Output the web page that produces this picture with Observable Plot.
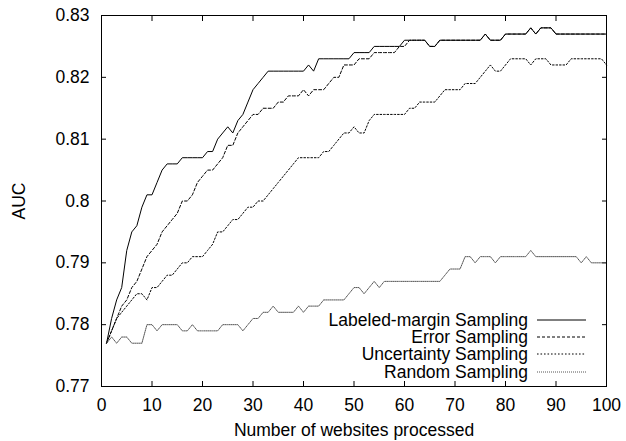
<!DOCTYPE html>
<html><head><meta charset="utf-8">
<script src="https://cdn.jsdelivr.net/npm/d3@7"></script>
<script src="https://cdn.jsdelivr.net/npm/@observablehq/plot@0.6"></script>
<style>
body{margin:0;background:#fff;}
#wrap{position:relative;width:626px;height:441px;font-family:"Liberation Sans",Arial,Helvetica,sans-serif;}
#legend{position:absolute;right:40px;top:311px;font-size:17.5px;color:#000;}
#legend .row{display:flex;align-items:center;justify-content:flex-end;height:17.3px;white-space:nowrap;}
#legend .row span{display:inline-block;height:16px;line-height:17.3px;overflow:visible;}
#legend svg{margin-left:9px;display:block;}
</style></head><body><div id="wrap"></div>
<script>
const xs = d3.range(1, 101);
const labeled = [
.777,.781,.784,.786,.792,.795,.796,.799,.801,.801,
.803,.805,.806,.806,.806,.807,.807,.807,.807,.807,
.808,.808,.810,.811,.812,.811,.813,.814,.816,.818,
.819,.820,.821,.821,.821,.821,.821,.821,.821,.821,
.822,.821,.823,.823,.823,.823,.823,.823,.823,.824,
.824,.824,.824,.825,.825,.825,.825,.825,.825,.826,
.826,.826,.826,.826,.825,.825,.826,.826,.826,.826,
.826,.826,.826,.826,.826,.827,.826,.826,.826,.827,
.827,.827,.827,.827,.828,.827,.828,.828,.828,.827,
.827,.827,.827,.827,.827,.827,.827,.827,.827,.827];
const error = [
.777,.779,.781,.783,.784,.786,.787,.789,.791,.792,
.793,.795,.796,.797,.798,.800,.800,.801,.803,.804,
.805,.805,.806,.807,.809,.809,.811,.812,.813,.814,
.814,.815,.815,.815,.816,.816,.817,.817,.817,.818,
.817,.818,.818,.818,.819,.820,.820,.822,.822,.822,
.823,.823,.823,.824,.824,.824,.824,.824,.825,.825,
.826,.826,.826,.826,.825,.825,.826,.826,.826,.826,
.826,.826,.826,.826,.826,.827,.826,.826,.826,.827,
.827,.827,.827,.827,.828,.827,.828,.828,.828,.827,
.827,.827,.827,.827,.827,.827,.827,.827,.827,.827];
const uncertainty = [
.777,.779,.781,.782,.783,.784,.785,.785,.784,.786,
.786,.787,.788,.788,.789,.790,.790,.791,.791,.791,
.792,.793,.795,.795,.796,.797,.797,.798,.799,.799,
.800,.800,.801,.802,.803,.804,.805,.806,.807,.807,
.807,.807,.807,.808,.808,.809,.810,.811,.811,.812,
.811,.811,.813,.814,.814,.814,.814,.814,.814,.814,
.815,.815,.816,.816,.816,.816,.817,.818,.818,.818,
.818,.819,.819,.819,.820,.821,.822,.821,.821,.822,
.823,.823,.823,.823,.822,.823,.823,.823,.822,.822,
.822,.822,.823,.823,.823,.823,.823,.823,.823,.822];
const random = [
.777,.778,.777,.778,.778,.777,.777,.777,.780,.780,
.779,.780,.780,.780,.780,.779,.779,.780,.779,.779,
.779,.779,.779,.780,.780,.780,.780,.779,.780,.781,
.781,.782,.782,.783,.782,.782,.782,.782,.783,.782,
.783,.783,.783,.784,.784,.784,.784,.784,.785,.786,
.786,.785,.786,.787,.786,.787,.787,.787,.787,.787,
.787,.787,.787,.787,.787,.787,.787,.788,.789,.789,
.789,.791,.791,.790,.791,.791,.791,.790,.791,.791,
.791,.791,.791,.791,.792,.791,.791,.791,.791,.791,
.791,.791,.791,.791,.790,.791,.790,.790,.790,.790];
const seriesNames = ["Labeled-margin Sampling","Error Sampling","Uncertainty Sampling","Random Sampling"];
const seriesValues = [labeled, error, uncertainty, random];
const seriesDash = [null, "3,2", "1.6,1.9", "1,1"];
const seriesColor = ["#000","#000","#000","#555"];
const xTicks = [0,10,20,30,40,50,60,70,80,90,100];
const xTickLabels = ["0","10","20","30","40","50","60","70","80","90","100"];
const yTicks = [0.77,0.78,0.79,0.80,0.81,0.82,0.83];
const yTickLabels = ["0.77","0.78","0.79","0.8","0.81","0.82","0.83"];

const font = '"Liberation Sans",Arial,Helvetica,sans-serif';
const lineMarks = seriesNames.map((name, k) => Plot.line(
  seriesValues[k].map((v, i) => ({x: xs[i], y: v})),
  {x: "x", y: "y", stroke: seriesColor[k], strokeWidth: 1, strokeDasharray: seriesDash[k] || undefined}
));

const chart = Plot.plot({
  width: 626, height: 441,
  marginLeft: 101, marginRight: 20, marginTop: 15, marginBottom: 55,
  style: {fontFamily: font, fontSize: "17.5px", background: "#fff", color: "#000"},
  x: {domain: [0, 100]},
  y: {domain: [0.77, 0.83]},
  marks: [
    Plot.axisX(xTicks, {anchor: "bottom", tickSize: -5, tickFormat: () => "", label: null}),
    Plot.axisX(xTicks, {anchor: "top", tickSize: -5, tickFormat: () => "", label: null}),
    Plot.axisY(yTicks, {anchor: "left", tickSize: -5, tickFormat: () => "", label: null}),
    Plot.axisY(yTicks, {anchor: "right", tickSize: -5, tickFormat: () => "", label: null}),
    Plot.axisX(xTicks, {anchor: "bottom", tickSize: 0, tickPadding: 12, tickFormat: (d) => xTickLabels[xTicks.indexOf(d)],
      label: "Number of websites processed", labelAnchor: "center", labelOffset: 49, labelArrow: "none"}),
    Plot.axisY(yTicks, {anchor: "left", tickSize: 0, tickPadding: 12, tickFormat: (d) => yTickLabels[yTicks.indexOf(d)],
      label: "AUC", labelAnchor: "center", labelOffset: 89, labelArrow: "none"}),
    ...lineMarks,
    Plot.frame({stroke: "#000", strokeWidth: 1})
  ]
});
const wrap = document.getElementById("wrap");
wrap.appendChild(chart);

const legend = document.createElement("div");
legend.id = "legend";
seriesNames.forEach((name, k) => {
  const row = document.createElement("div");
  row.className = "row";
  const span = document.createElement("span");
  span.textContent = name;
  row.appendChild(span);
  const ns = "http://www.w3.org/2000/svg";
  const svg = document.createElementNS(ns, "svg");
  svg.setAttribute("width", "49"); svg.setAttribute("height", "4");
  const ln = document.createElementNS(ns, "line");
  ln.setAttribute("x1", "0"); ln.setAttribute("x2", "49");
  ln.setAttribute("y1", "2"); ln.setAttribute("y2", "2");
  ln.setAttribute("stroke", seriesColor[k]);
  ln.setAttribute("stroke-width", "1");
  if (seriesDash[k]) ln.setAttribute("stroke-dasharray", seriesDash[k]);
  svg.appendChild(ln);
  row.appendChild(svg);
  legend.appendChild(row);
});
wrap.appendChild(legend);
</script>
</body></html>
